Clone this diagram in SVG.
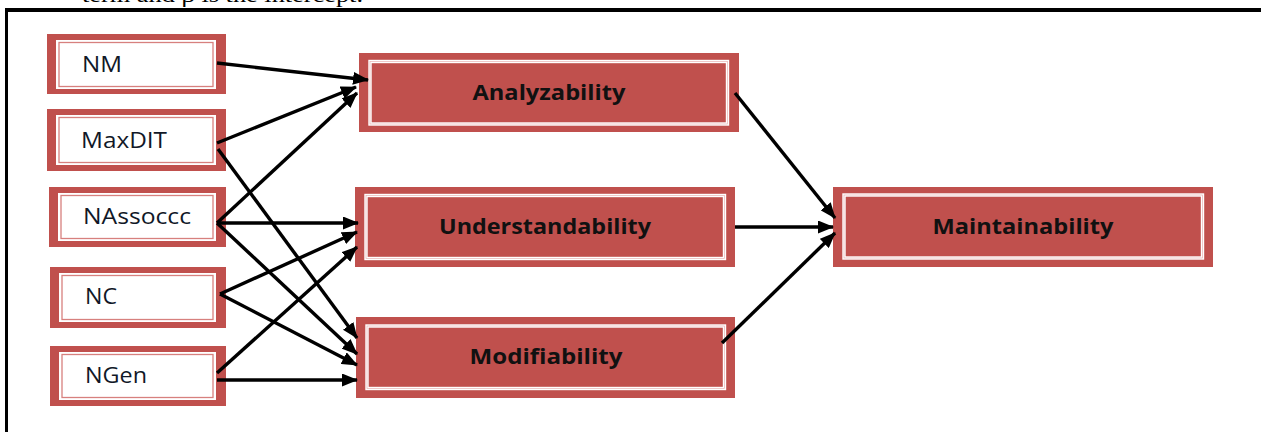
<svg xmlns="http://www.w3.org/2000/svg" width="1261" height="432" viewBox="0 0 1261 432">
<style>
.outer{fill:#c0504d}
.innerW{fill:#ffffff}
.innerL{fill:none;stroke:#d7807e;stroke-width:1.3}
.bigW{fill:none;stroke:#ffffff;stroke-width:3.4}
.bigL{fill:none;stroke:#e9b3b2;stroke-width:0.7}
.sl{font-family:"Open Sans","DejaVu Sans",sans-serif;font-size:21px;fill:#111827}
.bl{font-family:"Open Sans","DejaVu Sans",sans-serif;font-size:20.5px;font-weight:bold;fill:#111}
.cap{font-family:"Liberation Serif",serif;font-size:20px;fill:#000}
.c{stroke:#000;stroke-width:3.4;fill:none;marker-end:url(#ah)}
</style>
<defs>
<marker id="ah" viewBox="0 0 16 13" refX="15" refY="6.5" markerWidth="16" markerHeight="13" orient="auto" markerUnits="userSpaceOnUse">
<path d="M0,0 L16,6.5 L0,13 z" fill="#000"/>
</marker>
</defs>
<rect width="1261" height="432" fill="#fff"/>
<text class="cap" x="82" y="2" textLength="281" lengthAdjust="spacingAndGlyphs">term and β is the intercept.</text>
<g id="frame">
<line x1="5" y1="10" x2="1261" y2="10" stroke="#000" stroke-width="4"/>
<line x1="6.5" y1="8" x2="6.5" y2="432" stroke="#000" stroke-width="3"/>
</g>
<g id="NM">
<rect class="outer" x="47" y="34" width="179" height="60"/>
<rect class="innerW" x="56" y="40" width="160" height="49"/>
<rect class="innerL" x="59" y="42.5" width="154" height="44"/>
<text class="sl" x="82" y="72" textLength="40" lengthAdjust="spacingAndGlyphs">NM</text>
</g>
<g id="MaxDIT">
<rect class="outer" x="47" y="109" width="179" height="62"/>
<rect class="innerW" x="56" y="115" width="160" height="50"/>
<rect class="innerL" x="59" y="117.5" width="154" height="45"/>
<text class="sl" x="81" y="148" textLength="86" lengthAdjust="spacingAndGlyphs">MaxDIT</text>
</g>
<g id="NAssoccc">
<rect class="outer" x="49" y="187" width="177" height="60"/>
<rect class="innerW" x="58" y="193" width="158" height="48"/>
<rect class="innerL" x="61" y="195.5" width="152" height="43"/>
<text class="sl" x="83" y="224" textLength="108" lengthAdjust="spacingAndGlyphs">NAssoccc</text>
</g>
<g id="NC">
<rect class="outer" x="50" y="267" width="176" height="61"/>
<rect class="innerW" x="59" y="273" width="157" height="49"/>
<rect class="innerL" x="62" y="275.5" width="151" height="44"/>
<text class="sl" x="85" y="304" textLength="32" lengthAdjust="spacingAndGlyphs">NC</text>
</g>
<g id="NGen">
<rect class="outer" x="50" y="346" width="176" height="60"/>
<rect class="innerW" x="59" y="352" width="157" height="48"/>
<rect class="innerL" x="62" y="354.5" width="151" height="43"/>
<text class="sl" x="85" y="383" textLength="62" lengthAdjust="spacingAndGlyphs">NGen</text>
</g>
<g id="Analyzability">
<rect class="outer" x="359" y="53" width="380" height="79"/>
<rect class="bigW" x="370" y="61.5" width="357.5" height="62.5"/>
<rect class="bigL" x="370" y="61.5" width="357.5" height="62.5"/>
<text class="bl" x="549" y="100" text-anchor="middle" textLength="153" lengthAdjust="spacingAndGlyphs">Analyzability</text>
</g>
<g id="Understandability">
<rect class="outer" x="355" y="187" width="380" height="80"/>
<rect class="bigW" x="366" y="195.5" width="358.5" height="63"/>
<rect class="bigL" x="366" y="195.5" width="358.5" height="63"/>
<text class="bl" x="545" y="234" text-anchor="middle" textLength="212" lengthAdjust="spacingAndGlyphs">Understandability</text>
</g>
<g id="Modifiability">
<rect class="outer" x="356" y="317" width="379" height="81"/>
<rect class="bigW" x="367" y="326" width="357.5" height="62.5"/>
<rect class="bigL" x="367" y="326" width="357.5" height="62.5"/>
<text class="bl" x="546" y="364" text-anchor="middle" textLength="153" lengthAdjust="spacingAndGlyphs">Modifiability</text>
</g>
<g id="Maintainability">
<rect class="outer" x="833" y="187" width="380" height="80"/>
<rect class="bigW" x="844" y="195" width="358.5" height="63"/>
<rect class="bigL" x="844" y="195" width="358.5" height="63"/>
<text class="bl" x="1023" y="234" text-anchor="middle" textLength="181" lengthAdjust="spacingAndGlyphs">Maintainability</text>
</g>
<g id="connectors">
<line class="c" x1="217" y1="63" x2="368" y2="80"/>
<line class="c" x1="217" y1="143" x2="356" y2="87"/>
<line class="c" x1="217" y1="223" x2="357" y2="93"/>
<line class="c" x1="217" y1="223" x2="358" y2="223"/>
<line class="c" x1="218" y1="149" x2="357" y2="338"/>
<line class="c" x1="217" y1="223" x2="357" y2="354"/>
<line class="c" x1="220" y1="294" x2="357" y2="365"/>
<line class="c" x1="217" y1="380" x2="357" y2="380"/>
<line class="c" x1="220" y1="294" x2="357" y2="232"/>
<line class="c" x1="217" y1="373" x2="357" y2="247"/>
<line class="c" x1="735" y1="93" x2="835" y2="218"/>
<line class="c" x1="735" y1="227" x2="833" y2="227"/>
<line class="c" x1="722" y1="343" x2="835" y2="233"/>
</g>
</svg>
